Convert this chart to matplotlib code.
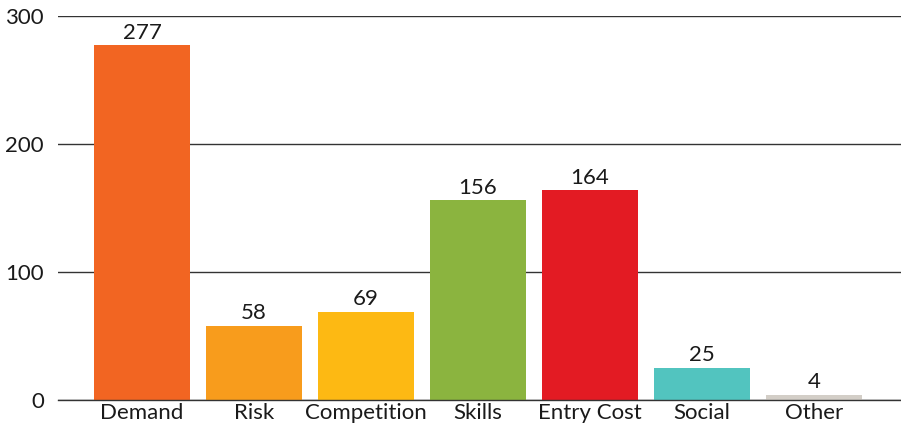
import matplotlib
matplotlib.use("Agg")
import matplotlib.pyplot as plt

categories = ["Demand", "Risk", "Competition", "Skills", "Entry Cost", "Social", "Other"]
values = [277, 58, 69, 156, 164, 25, 4]
colors = ["#F26522", "#F89C1C", "#FDB913", "#8BB43F", "#E31B23", "#52C4BF", "#D3CEC7"]
yticks = [0, 100, 200, 300]

plt.rcParams["font.family"] = ["Lato", "DejaVu Sans"]

fig = plt.figure(figsize=(9.01, 4.30), dpi=100)
ax = fig.add_axes([58 / 901, 30 / 430, (901 - 58) / 901, 384 / 430])

x = range(len(categories))
bars = ax.bar(x, values, width=0.857, color=colors, zorder=2)

for rect, v in zip(bars, values):
    ax.text(rect.get_x() + rect.get_width() / 2, v + 2.0, str(v),
            ha="center", va="bottom", fontsize=16, color="#1a1a1a")

ax.set_xlim(-0.75, 6.777)
ax.set_ylim(0, 300)
ax.set_yticks(yticks)
ax.set_yticklabels([str(t) for t in yticks], fontsize=16, color="#1a1a1a")
ax.set_xticks(list(x))
ax.set_xticklabels(categories, fontsize=16, color="#1a1a1a")
ax.tick_params(axis="both", length=0)
ax.tick_params(axis="y", pad=10)
ax.tick_params(axis="x", pad=2)

ax.yaxis.grid(True, color="#333333", linewidth=1.0, zorder=1)
for side in ["top", "right", "left"]:
    ax.spines[side].set_visible(False)
ax.spines["bottom"].set_color("#333333")
ax.spines["bottom"].set_linewidth(1.0)
ax.spines["bottom"].set_zorder(3)

fig.savefig("out.png", dpi=100)
